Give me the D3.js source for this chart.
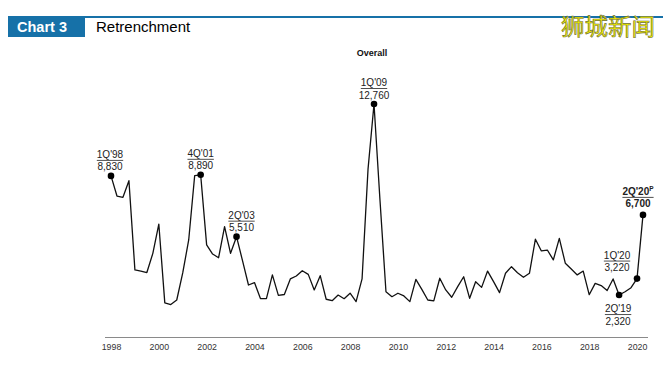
<!DOCTYPE html>
<html>
<head>
<meta charset="utf-8">
<script src="https://cdn.jsdelivr.net/npm/d3@7"></script>
<style>
  body { margin: 0; background: #fff; }
  svg { display: block; font-family: Arial, "Liberation Sans", sans-serif; }
</style>
</head>
<body>
<svg id="chart" width="663" height="370"></svg>
<script>
// quarterly retrenchments, 1Q'98 .. 2Q'20
const values = [
  8830, 7730, 7660, 8570,   // 1998
  3690, 3630, 3550, 4600,   // 1999
  6200, 1890, 1800, 2050,   // 2000
  3530, 5330, 8850, 8890,   // 2001
  5060, 4560, 4360, 6060,   // 2002
  4600, 5510, 4200, 2870,   // 2003
  3000, 2130, 2120, 3420,   // 2004
  2300, 2350, 3200, 3360,   // 2005
  3650, 3450, 2600, 3380,   // 2006
  2090, 2010, 2320, 2120,   // 2007
  2420, 1960, 3200, 9200,   // 2008
  12760, 7500, 2500, 2230,  // 2009
  2420, 2270, 1960, 3180,   // 2010
  2630, 2050, 2000, 3240,   // 2011
  2600, 2200, 2780, 3320,   // 2012
  2140, 3050, 2740, 3630,   // 2013
  3050, 2450, 3510, 3870,   // 2014
  3540, 3290, 3510, 5370,   // 2015
  4730, 4780, 4240, 5420,   // 2016
  4060, 3740, 3420, 3630,   // 2017
  2340, 2960, 2840, 2570,   // 2018
  3200, 2320, 2500, 2720,   // 2019
  3220, 6700                // 2020
];
const firstYear = 1998;
const yearTicks = [1998, 2000, 2002, 2004, 2006, 2008, 2010, 2012, 2014, 2016, 2018, 2020];

// highlighted points: quarter index, label, value text, where the label sits
const callouts = [
  { i: 0,  q: "1Q'98", v: "8,830",  pos: "above", dx: -1 },
  { i: 15, q: "4Q'01", v: "8,890",  pos: "above", dx: 0 },
  { i: 21, q: "2Q'03", v: "5,510",  pos: "above", dx: 5 },
  { i: 44, q: "1Q'09", v: "12,760", pos: "above", dx: 0 },
  { i: 85, q: "2Q'19", v: "2,320",  pos: "below", dx: -1 },
  { i: 88, q: "1Q'20", v: "3,220",  pos: "left",  dx: -20 },
  { i: 89, q: "2Q'20", v: "6,700",  pos: "top", dx: -5, bold: true, sup: "P" }
];

const svg = d3.select("#chart");

// header bar
svg.append("rect").attr("x", 8).attr("y", 16).attr("width", 655).attr("height", 2).attr("fill", "#1671a8");
svg.append("rect").attr("x", 8).attr("y", 16).attr("width", 77).attr("height", 21).attr("fill", "#1671a8");
svg.append("text").attr("x", 17).attr("y", 32).attr("fill", "#fff")
  .style("font-size", "14.5px").style("font-weight", "bold").text("Chart 3");
svg.append("text").attr("x", 96).attr("y", 32).attr("fill", "#000")
  .style("font-size", "15px").text("Retrenchment");

// watermark
svg.append("text").attr("x", 608).attr("y", 35).attr("text-anchor", "middle")
  .style("font-family", "'Noto Sans CJK SC', sans-serif").style("font-size", "23px")
  .attr("fill", "#f4f000").attr("stroke", "#6f6f3a").attr("stroke-width", 0.6)
  .attr("textLength", 94).attr("lengthAdjust", "spacingAndGlyphs")
  .text("狮城新闻");

svg.append("text").attr("x", 372).attr("y", 56).attr("text-anchor", "middle")
  .style("font-size", "9px").style("font-weight", "bold").attr("fill", "#111").text("Overall");

const x = d3.scaleLinear().domain([0, values.length - 1]).range([111, 643]);
const y = d3.scaleLinear().domain([0, 12760]).range([337.5, 104]);

// x axis: plain line with year labels at each Q1
const axis = svg.append("g").attr("transform", "translate(0,337)")
  .call(d3.axisBottom(x)
    .tickValues(yearTicks.map(yr => (yr - firstYear) * 4))
    .tickFormat(d => firstYear + d / 4)
    .tickSize(0).tickPadding(7));
axis.select(".domain").attr("d", "M105,0.5H648").attr("stroke", "#8a8a8a");
axis.selectAll("text").style("font-size", "8.8px").attr("fill", "#333").style("font-family", "Arial, sans-serif");

// series line
const line = d3.line().x((d, i) => x(i)).y(d => y(d));
svg.append("path").datum(values).attr("d", line)
  .attr("fill", "none").attr("stroke", "#111").attr("stroke-width", 1.3).attr("stroke-linejoin", "round");

// dots + fraction-style labels
const g = svg.append("g").style("font-size", "10px").attr("fill", "#222");
callouts.forEach(c => {
  const px = x(c.i), py = y(values[c.i]);
  g.append("circle").attr("cx", px).attr("cy", py).attr("r", 3.3).attr("fill", "#000");
  let cx = px + c.dx, qy;
  if (c.pos === "above") qy = py - 18;
  else if (c.pos === "below") qy = py + 17;
  else qy = py - 20;
  const t = g.append("text").attr("x", cx).attr("y", qy).attr("text-anchor", "middle")
    .style("font-weight", c.bold ? "bold" : null).text(c.q);
  if (c.sup) t.append("tspan").attr("dy", -4).style("font-size", "6.5px").text(c.sup);
  const w = t.node().getComputedTextLength();
  g.append("line").attr("x1", cx - w / 2).attr("x2", cx + w / 2)
    .attr("y1", qy + 2.5).attr("y2", qy + 2.5).attr("stroke", "#222").attr("stroke-width", 0.8);
  g.append("text").attr("x", cx).attr("y", qy + 12.5).attr("text-anchor", "middle")
    .style("font-weight", c.bold ? "bold" : null).text(c.v);
});
</script>
</body>
</html>
